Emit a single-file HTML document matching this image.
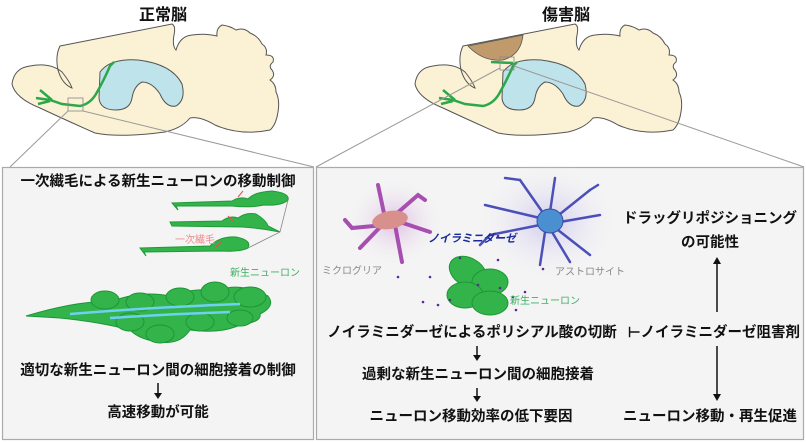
<!DOCTYPE html>
<html><head><meta charset="utf-8"><style>
html,body{margin:0;padding:0;background:#fff;}
svg{display:block;}
text{font-family:"Liberation Sans","Noto Sans CJK JP",sans-serif;}
.b{font-weight:bold;font-size:14.5px;fill:#111;}
</style></head><body>
<svg width="806" height="442" viewBox="0 0 806 442" xmlns="http://www.w3.org/2000/svg">
<defs>
<radialGradient id="gp"><stop offset="0" stop-color="#d8b0e0" stop-opacity="0.8"/><stop offset="1" stop-color="#f4f4f4" stop-opacity="0"/></radialGradient>
<radialGradient id="gb"><stop offset="0" stop-color="#c8c0ec" stop-opacity="0.8"/><stop offset="1" stop-color="#f4f4f4" stop-opacity="0"/></radialGradient>
<g id="brain">
<path d="M60,46 L172,24 Q176,26 174,35 Q172,46 176,50 Q180,36 192,35 Q205,33 217,36 Q216,28 222,25 Q230,26 236,30 Q244,27 250,33 Q258,36 262,44 Q268,48 266,55 Q275,55 273,62 Q268,66 272,70 Q276,76 270,80 Q276,84 276,92 Q280,100 278,112 Q276,125 270,130 Q240,136 215,125 Q200,116 190,118 Q182,128 165,132 Q120,138 95,133 Q70,122 40,108 Q15,98 12,84 Q14,68 30,66 Q50,62 62,72 Q70,82 72,88 Q62,84 58,70 Q55,56 60,46 Z" fill="#fbf1d4" stroke="#555" stroke-width="1"/>
<path d="M100,72 Q110,58 138,60 Q172,64 182,84 Q186,100 176,106 Q166,108 160,94 Q152,82 142,82 Q134,86 132,98 Q130,110 116,110 Q100,110 99,98 Z" fill="#bfe3ea" stroke="#555" stroke-width="1"/>
<path d="M36,98 L50,100 L62,104 L80,106 Q90,104 96,94 Q104,80 110,66 L114,62 M40,90 L52,100 M38,104 L50,101" fill="none" stroke="#2ca84a" stroke-width="2.5"/>
</g>
</defs>
<text x="163" y="20" text-anchor="middle" font-size="16" font-weight="bold" fill="#111">正常脳</text>
<text x="566" y="20" text-anchor="middle" font-size="16" font-weight="bold" fill="#111">傷害脳</text>
<use href="#brain"/>
<g transform="translate(403,0)">
<use href="#brain"/>
<path d="M65,46 L120,35 Q118,55 100,60 Q80,62 65,46 Z" fill="#c09a6a" stroke="#555" stroke-width="0.8"/>
<path d="M88,62 L110,63" stroke="#2ca84a" stroke-width="2.5"/>
</g>
<rect x="68" y="98" width="15" height="13" fill="none" stroke="#888" stroke-width="0.8"/>
<line x1="68" y1="111" x2="10" y2="167" stroke="#999" stroke-width="1"/>
<line x1="83" y1="111" x2="314" y2="167" stroke="#999" stroke-width="1"/>
<rect x="500" y="57" width="14" height="13" fill="none" stroke="#888" stroke-width="0.8"/>
<line x1="500" y1="68" x2="316" y2="167" stroke="#999" stroke-width="1"/>
<line x1="514" y1="66" x2="804" y2="167" stroke="#999" stroke-width="1"/>
<rect x="2.5" y="167.5" width="311" height="272" fill="#f4f4f4" stroke="#aaa" stroke-width="1.2"/>
<rect x="316.5" y="167.5" width="487" height="272" fill="#f4f4f4" stroke="#aaa" stroke-width="1.2"/>
<text x="158" y="186" text-anchor="middle" class="b">一次繊毛による新生ニューロンの移動制御</text>
<g fill="#33b44a" stroke="#1f9a38" stroke-width="1">
<path d="M172,203 L232,201 Q240,196 248,199 Q254,192 272,191 Q290,193 288,200 Q282,206 264,205 Q250,208 232,206 L176,206 L178,210 Z"/>
<path d="M170,222 L222,221 Q230,215 238,218 Q246,212 256,214 Q266,220 268,226 L280,232 Q260,228 242,227 L172,226 Z"/>
<path d="M140,248 L210,246 Q220,236 236,237 Q252,240 248,248 Q240,252 220,251 L144,252 L146,256 Z"/>
</g>
<path d="M288,200 L280,232 L248,248" fill="none" stroke="#888" stroke-width="0.8"/>
<g stroke="#e35050" stroke-width="1"><line x1="238" y1="197" x2="243" y2="191"/><line x1="228" y1="216" x2="234" y2="222"/><line x1="216" y1="247" x2="222" y2="241"/></g>
<text x="175" y="243" font-size="10" fill="#f08a8a">一次繊毛</text>
<text x="230" y="276" font-size="10" fill="#3ab060">新生ニューロン</text>
<g fill="#33b44a" stroke="#1d9636" stroke-width="1">
<path d="M26,316 Q80,300 110,302 Q140,290 170,296 Q190,288 220,290 Q240,282 268,296 Q276,306 260,314 Q262,322 240,325 Q220,334 190,330 Q180,345 160,342 Q140,340 130,330 Q100,322 60,318 Z"/>
<ellipse cx="105" cy="300" rx="14" ry="9"/><ellipse cx="140" cy="302" rx="14" ry="9"/><ellipse cx="180" cy="297" rx="14" ry="9"/><ellipse cx="215" cy="292" rx="14" ry="10"/><ellipse cx="250" cy="297" rx="16" ry="10"/><ellipse cx="240" cy="318" rx="13" ry="8"/><ellipse cx="200" cy="322" rx="14" ry="9"/><ellipse cx="160" cy="334" rx="14" ry="9"/><ellipse cx="130" cy="322" rx="14" ry="9"/>
</g>
<g stroke="#6fd0f0" stroke-width="2.5" fill="none"><path d="M70,314 Q140,308 240,304"/><path d="M110,318 Q170,314 230,312"/></g>
<text x="158" y="375" text-anchor="middle" class="b">適切な新生ニューロン間の細胞接着の制御</text>
<line x1="158" y1="383" x2="158" y2="396" stroke="#111" stroke-width="1.5"/><path d="M154,393 L158,399 L162,393 Z" fill="#111"/>
<text x="158" y="417" text-anchor="middle" class="b">高速移動が可能</text>
<ellipse cx="395" cy="222" rx="50" ry="45" fill="url(#gp)"/>
<ellipse cx="548" cy="222" rx="72" ry="60" fill="url(#gb)"/>
<g stroke="#a64fb0" stroke-width="4" fill="none" stroke-linecap="round">
<path d="M385,218 L378,185"/><path d="M395,215 L418,195 L425,200"/><path d="M400,222 L430,232"/><path d="M385,225 L352,228 L345,220"/><path d="M395,225 L402,262"/><path d="M385,222 L360,248"/>
</g>
<ellipse cx="390" cy="220" rx="18" ry="9" fill="#d8908c" transform="rotate(-10 390 220)"/>
<g stroke="#4b50b8" stroke-width="2.5" fill="none" stroke-linecap="round">
<path d="M548,220 L520,180"/><path d="M550,212 L555,178"/><path d="M555,218 L590,190"/><path d="M560,222 L600,215"/><path d="M558,230 L590,255"/><path d="M545,232 L540,265"/><path d="M540,225 L490,235"/><path d="M540,218 L485,205"/><path d="M552,232 L570,262"/><path d="M520,180 L505,178 M590,190 L598,185 M490,235 L480,245"/>
</g>
<ellipse cx="550" cy="221" rx="13" ry="12" fill="#4a8fd0" stroke="#3a4aa8"/>
<text x="428" y="242" font-size="11" font-weight="bold" font-style="italic" fill="#1a2a9a">ノイラミニダーゼ</text>
<text x="322" y="274" font-size="10" fill="#888">ミクログリア</text>
<text x="555" y="275" font-size="10" fill="#888">アストロサイト</text>
<g fill="#33b44a" stroke="#1d9636" stroke-width="1">
<ellipse cx="468" cy="272" rx="20" ry="14" transform="rotate(30 468 272)"/><ellipse cx="490" cy="282" rx="18" ry="13"/><ellipse cx="465" cy="295" rx="18" ry="13"/><ellipse cx="490" cy="303" rx="18" ry="12"/></g>
<g fill="#5a2a9a"><circle cx="460" cy="258" r="1.3"/><circle cx="498" cy="260" r="1.3"/><circle cx="430" cy="277" r="1.3"/><circle cx="450" cy="300" r="1.3"/><circle cx="423" cy="302" r="1.3"/><circle cx="438" cy="305" r="1.3"/><circle cx="513" cy="297" r="1.3"/><circle cx="525" cy="292" r="1.3"/><circle cx="516" cy="310" r="1.3"/><circle cx="398" cy="277" r="1.3"/><circle cx="478" cy="285" r="1.3"/><circle cx="500" cy="288" r="1.3"/><circle cx="543" cy="269" r="1.3"/><circle cx="498" cy="236" r="1.3"/></g>
<text x="510" y="304" font-size="10" fill="#3ab060">新生ニューロン</text>
<text x="472" y="337" text-anchor="middle" class="b">ノイラミニダーゼによるポリシアル酸の切断</text>
<text x="714" y="337" text-anchor="middle" class="b">⊢ノイラミニダーゼ阻害剤</text>
<line x1="477" y1="346" x2="477" y2="358" stroke="#111" stroke-width="1.5"/><path d="M473,355 L477,361 L481,355 Z" fill="#111"/>
<text x="478" y="379" text-anchor="middle" class="b">過剰な新生ニューロン間の細胞接着</text>
<line x1="477" y1="388" x2="477" y2="399" stroke="#111" stroke-width="1.5"/><path d="M473,396 L477,402 L481,396 Z" fill="#111"/>
<text x="471" y="421" text-anchor="middle" class="b">ニューロン移動効率の低下要因</text>
<text x="710" y="223" text-anchor="middle" class="b">ドラッグリポジショニング</text>
<text x="710" y="247" text-anchor="middle" class="b">の可能性</text>
<line x1="717" y1="312" x2="717" y2="262" stroke="#111" stroke-width="1.5"/><path d="M713,264 L717,257 L721,264 Z" fill="#111"/>
<line x1="717" y1="346" x2="717" y2="396" stroke="#111" stroke-width="1.5"/><path d="M713,394 L717,401 L721,394 Z" fill="#111"/>
<text x="710" y="421" text-anchor="middle" class="b">ニューロン移動・再生促進</text>
</svg>
</body></html>
